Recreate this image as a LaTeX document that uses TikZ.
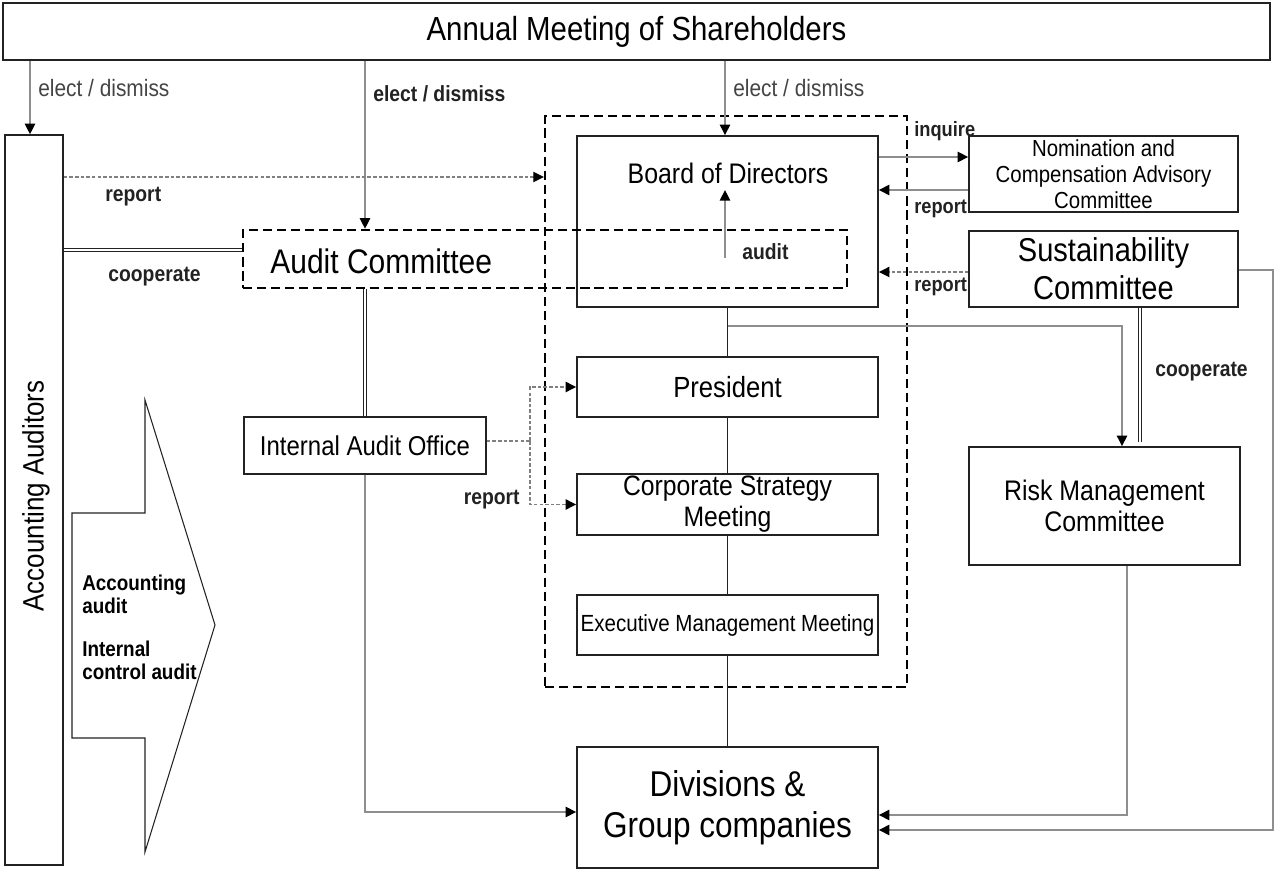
\documentclass[tikz,border=0pt]{standalone}
\usepackage{fontspec}
\setmainfont{Liberation Sans}[FakeStretch=0.88]
\usetikzlibrary{arrows.meta,calc}
\newcommand\fsz[2]{\fontsize{#1pt}{#2pt}\selectfont}
\definecolor{lgray}{HTML}{8E8E8E}
\definecolor{dgray}{HTML}{222222}
\definecolor{mgray}{HTML}{444444}
\begin{document}
\begin{tikzpicture}[x=0.02cm,y=-0.02cm,
  box/.style={draw=dgray,line width=0.9pt,inner sep=0pt,align=center,anchor=center,text=black},
  dbox/.style={draw=black,line width=1.4pt,dash pattern=on 5.2pt off 2.8pt,inner sep=0pt},
  txt/.style={inner sep=0pt,align=center,text=black},
  lbl/.style={inner sep=0pt,font=\fsz{12.5}{14}\bfseries,text=dgray,anchor=west},
  nlbl/.style={inner sep=0pt,font=\fsz{13.5}{15},text=mgray,anchor=west},
  gline/.style={draw=lgray,line width=0.9pt},
  harr/.style={-{Triangle[length=6pt,width=5.8pt,color=black]}},
  dotl/.style={draw=gray,line width=0.8pt,dash pattern=on 2pt off 1.2pt},
  dbl/.style={draw=dgray,double=white,double distance=1.3pt,line width=0.6pt},
  vline/.style={draw=dgray,line width=0.7pt}
]
\useasboundingbox (0,0) rectangle (1275,871);

% boxes
\node[box,minimum width=25.34cm,minimum height=1.14cm,font=\fsz{19}{22}] (ams) at (636.5,31.5) {Annual Meeting of Shareholders};
\node[box,minimum width=1.16cm,minimum height=14.6cm] (aa) at (34,500) {};
\node[txt,rotate=90,font=\fsz{16.8}{19}] (aatxt) at (36,496) {Accounting Auditors};
\node[dbox,minimum width=7.24cm,minimum height=11.42cm] (big) at (726,401.5) {};
\node[box,minimum width=6.02cm,minimum height=3.42cm] (bod) at (727.5,221.5) {};
\node[txt,font=\fsz{16.1}{18.5}] (bodtxt) at (728,173) {Board of Directors};
\node[dbox,minimum width=12.08cm,minimum height=1.16cm] (ac) at (545,259) {};
\node[txt,anchor=west,font=\fsz{19.4}{22}] (actxt) at (270,261) {Audit Committee};
\node[box,minimum width=5.38cm,minimum height=1.52cm,font=\fsz{13.2}{14.7}] (nom) at (1103.5,174) {Nomination and\\Compensation Advisory\\Committee};
\node[box,minimum width=5.38cm,minimum height=1.52cm,font=\fsz{18.8}{21.5}] (sus) at (1103.5,269) {Sustainability\\Committee};
\node[box,minimum width=6.02cm,minimum height=1.2cm,font=\fsz{16.6}{19}] (pres) at (727.5,387) {President};
\node[box,minimum width=4.84cm,minimum height=1.14cm,font=\fsz{15.5}{18}] (iao) at (365,445.5) {Internal Audit Office};
\node[box,minimum width=6.02cm,minimum height=1.22cm,font=\fsz{16}{17.6}] (csm) at (727.5,504.5) {Corporate Strategy\\Meeting};
\node[box,minimum width=5.42cm,minimum height=2.36cm,font=\fsz{16.1}{17.6}] (rmc) at (1104.5,506) {Risk Management\\Committee};
\node[box,minimum width=6.02cm,minimum height=1.2cm,font=\fsz{13.3}{15}] (emm) at (727.5,625) {Executive Management Meeting};
\node[box,minimum width=6.02cm,minimum height=2.42cm,font=\fsz{20.4}{23.2}] (div) at (727.5,807.5) {Divisions \&\\Group companies};

% block arrow
\draw[line width=0.6pt,draw=dgray] (72,513) -- (145,513) -- (145,400) -- (215,625) -- (145,852) -- (145,738) -- (72,738) -- cycle;
\node[txt,anchor=west,align=left,font=\fsz{12.2}{13.2}\bfseries] (aud1) at (82,594) {Accounting\\audit};
\node[txt,anchor=west,align=left,font=\fsz{12.2}{13.2}\bfseries] (aud2) at (82,660) {Internal\\control audit};

% elect / dismiss
\coordinate (e1) at (30,0);
\coordinate (e2) at (365,0);
\coordinate (e3) at (725,0);
\draw[gline,harr] (ams.south -| e1) -- (aa.north -| e1);
\draw[gline,harr] (ams.south -| e2) -- (ac.north -| e2);
\draw[gline,harr] (ams.south -| e3) -- (bod.north -| e3);
\node[nlbl] at (38,88) {elect / dismiss};
\node[lbl] at (373,94) {elect / dismiss};
\node[nlbl] at (733,88) {elect / dismiss};

% accounting auditors relations
\coordinate (r1) at (0,177);
\draw[dotl,harr] (aa.east |- r1) -- (big.west |- r1);
\node[lbl] at (105,197) {report};
\coordinate (c1) at (0,250);
\draw[dbl] (aa.east |- c1) -- (ac.west |- c1);
\node[lbl] at (108,277) {cooperate};

% audit committee
\draw[dbl] (ac.south -| e2) -- (iao.north);
\coordinate (au1) at (725,258);
\coordinate (au2) at (725,190);
\draw[gline,harr] (au1) -- (au2);
\node[lbl] at (742,252) {audit};

% board and committees
\coordinate (iq) at (0,157);
\draw[gline,harr] (bod.east |- iq) -- (nom.west |- iq);
\node[lbl,font=\fsz{11.8}{13}\bfseries] at (914,131) {inquire};
\coordinate (rn) at (0,190);
\draw[gline,harr] (nom.west |- rn) -- (bod.east |- rn);
\node[lbl,font=\fsz{11.8}{13}\bfseries] at (914,209) {report};
\coordinate (rs) at (0,272);
\draw[dotl,harr] (sus.west |- rs) -- (bod.east |- rs);
\node[lbl,font=\fsz{11.8}{13}\bfseries] at (914,287) {report};

% vertical chain
\draw[vline] (bod.south) -- (pres.north);
\draw[vline] (pres.south) -- (csm.north);
\draw[vline] (csm.south) -- (emm.north);
\draw[vline] (emm.south) -- (div.north);

% board -> risk
\coordinate (br) at (1122,326);
\draw[gline,harr] (bod.south |- br) -- (br) -- (rmc.north -| br);
\coordinate (sr) at (1140,0);
\draw[dbl] (sus.south -| sr) -- ($(rmc.north -| sr)+(0,-4)$);
\node[lbl] at (1155,372) {cooperate};

% internal audit office
\coordinate (ij) at (530,441);
\draw[dotl] (iao.east |- ij) -- (ij);
\draw[dotl,harr] (ij) |- (pres.west);
\draw[dotl,harr] (ij) |- (csm.west);
\node[lbl,anchor=east] at (520,500) {report};

% to divisions
\coordinate (id) at (0,812);
\draw[gline,harr] (iao.south) |- (div.west |- id);
\coordinate (rd) at (1127,815);
\draw[gline,harr] (rmc.south -| rd) |- (div.east |- rd);
\coordinate (sd) at (1273,830);
\coordinate (ss) at (0,270);
\draw[gline,harr] (sus.east |- ss) -| (sd) -- (div.east |- sd);
\end{tikzpicture}
\end{document}
